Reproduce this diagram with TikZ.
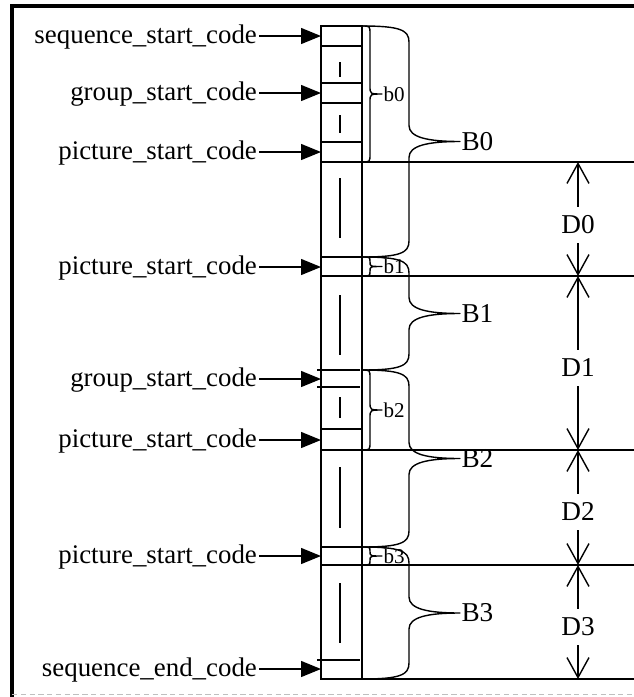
\documentclass[tikz,border=0pt]{standalone}
\usepackage{fontspec}
\setmainfont{Liberation Serif}
\usetikzlibrary{arrows.meta}

\begin{document}
\begin{tikzpicture}[x=0.02cm,y=-0.02cm,
  rule/.style={line width=1pt},
  feed/.style={line width=0.8pt,-{Triangle[length=0.4cm,width=0.32cm]}},
  dim/.style={line width=0.8pt,-{Straight Barb[length=0.4cm,width=0.44cm]}},
  brace/.style={line width=0.8pt,line join=round},
  codename/.style={font=\fontsize{15.3}{18}\selectfont,text height=1em,text depth=0.2em,inner sep=1pt,anchor=east},
  big/.style={font=\fontsize{15.5}{18}\selectfont,inner sep=0.5pt},
  small/.style={font=\fontsize{12}{14}\selectfont,inner sep=0.5pt}]
\useasboundingbox (0,0) rectangle (634,697);
% frame
\draw[line width=2.2pt] (12,697) -- (12,6) -- (634,6);
\draw[gray!50,densely dashed] (12,694) -- (634,694);

% the bit stream column
\draw[rule] (321,26) rectangle (362,679);
\foreach \y in {46,83,103,142,257,429,547}
  \draw[rule] (321,\y) -- (362,\y);
\foreach \y in {370,387,660}
  \draw[rule] (317,\y) -- (360,\y);
\foreach \ya/\yb in {62/77,115/133,178/238,295/355,397/418,467/528,583/643}
  \draw[line width=0.8pt] (340,\ya) -- (340,\yb);
% picture boundaries
\foreach \y [count=\i from 0] in {162,276,450,565,679}{
  \coordinate (r\i) at (578,\y);
  \draw[rule] (321,\y) -- (634,\y);
}

% start codes
\foreach \y/\txt [count=\i] in {36/sequence\_start\_code,93/group\_start\_code,
    152/picture\_start\_code,267/picture\_start\_code,379/group\_start\_code,
    440/picture\_start\_code,556/picture\_start\_code,669/sequence\_end\_code}{
  \node[codename] (c\i) at (259,\y) {\txt};
  \coordinate (e\i) at (321,\y);
  \draw[feed] (c\i) -- (e\i);
}

% small braces b0..b3
\foreach \ya/\yb/\n in {26/162/0,257/276/1,370/450/2,547/565/3}{
  \pgfmathsetmacro\ym{(\ya+\yb)/2}
  \pgfmathsetmacro\rr{min(8,(\yb-\ya)/4)}
  \draw[brace] (362,\ya) .. controls (370,\ya) .. (370,\ya+\rr) -- (370,\ym-\rr)
    .. controls (370,\ym) .. (382,\ym) node[small,anchor=west] (b\n) {b\n}
    .. controls (370,\ym) .. (370,\ym+\rr) -- (370,\yb-\rr)
    .. controls (370,\yb) .. (362,\yb);
}

% big braces B0..B3
\foreach \ya/\yb/\n in {26/257/0,257/370/1,370/547/2,547/679/3}{
  \pgfmathsetmacro\ym{(\ya+\yb)/2}
  \draw[brace] (362,\ya) .. controls (400,\ya) and (409,\ya+4) .. (409,\ya+16) -- (409,\ym-16)
    .. controls (409,\ym-4) and (428,\ym) .. (460,\ym) node[big,anchor=west] (B\n) {B\n}
    .. controls (428,\ym) and (409,\ym+4) .. (409,\ym+16) -- (409,\yb-16)
    .. controls (409,\yb-4) and (400,\yb) .. (362,\yb);
}

% distances D0..D3
\foreach \y/\n/\ra/\rb in {225/0/0/1,368/1/1/2,512/2/2/3,627/3/3/4}{
  \node[big,inner sep=5pt] (D\n) at (578,\y) {D\n};
  \draw[dim] (D\n) -- (r\ra);
  \draw[dim] (D\n) -- (r\rb);
}
\end{tikzpicture}
\end{document}
